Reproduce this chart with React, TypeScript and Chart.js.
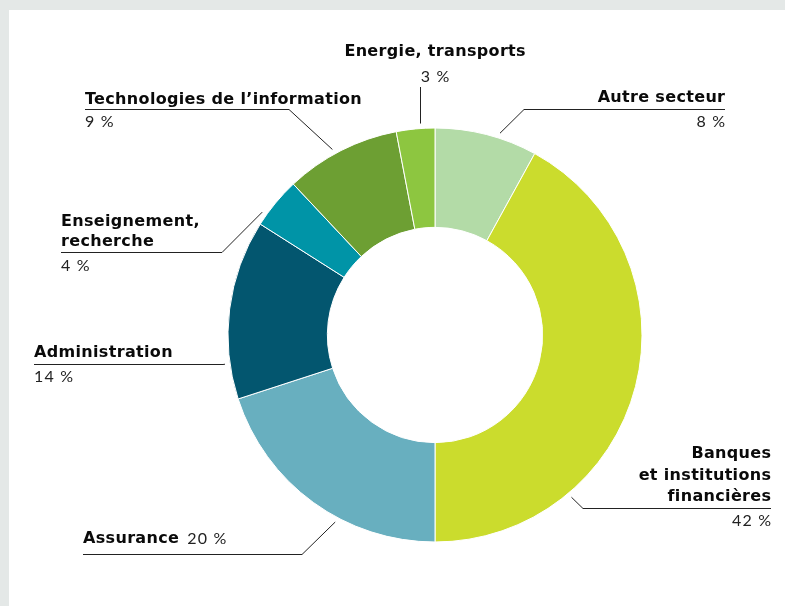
import React, { useEffect, useRef } from "react";
import { Chart, registerables } from "chart.js";

Chart.register(...registerables);

const sectors = [
  "Autre secteur",
  "Banques et institutions financières",
  "Assurance",
  "Administration",
  "Enseignement, recherche",
  "Technologies de l’information",
  "Energie, transports",
];
const shares = [8, 42, 20, 14, 4, 9, 3];
const sliceColors = ["#b3dba7", "#cbdc2d", "#68afbf", "#03566f", "#0094a7", "#6d9f33", "#8dc640"];

// label layout (annotation placement only)
type LabelLayout = {
  lines: string[];
  align: "left" | "right" | "center" | "inline";
  x: number;
  lineY: number[];
  pctY: number;
  underlineY: number;
  elbowX: number;
  t: number; // where along the slice the leader touches
};
const labelLayout: LabelLayout[] = [
  { lines: ["Autre secteur"], align: "right", x: 725, lineY: [98], pctY: 122, underlineY: 109, elbowX: 524, t: 0.62 },
  { lines: ["Banques", "et institutions", "financières"], align: "right", x: 771, lineY: [454, 476, 497], pctY: 521, underlineY: 508, elbowX: 583, t: 0.735 },
  { lines: ["Assurance"], align: "inline", x: 83, lineY: [539], pctY: 539, underlineY: 554, elbowX: 302, t: 0.39 },
  { lines: ["Administration"], align: "left", x: 34, lineY: [353], pctY: 377, underlineY: 364, elbowX: 223, t: 0.2 },
  { lines: ["Enseignement,", "recherche"], align: "left", x: 61, lineY: [222, 242], pctY: 266, underlineY: 252, elbowX: 222, t: 0.21 },
  { lines: ["Technologies de l’information"], align: "left", x: 85, lineY: [100], pctY: 122, underlineY: 109, elbowX: 289, t: 0.44 },
  { lines: ["Energie, transports"], align: "center", x: 435, lineY: [52], pctY: 77, underlineY: 87, elbowX: 0, t: 0.62 },
];

const BOLD = "bold 16px 'DejaVu Sans', Lato, sans-serif";
const NORMAL = "16px Lato, 'Open Sans', sans-serif";
let BOLD_LS = 0;
const NORMAL_LS = 1.2;
const REF_TEXT = "Technologies de l’information";
const REF_WIDTH = 277;

function setFont(ctx: any, bold: boolean) {
  ctx.font = bold ? BOLD : NORMAL;
  ctx.letterSpacing = (bold ? BOLD_LS : NORMAL_LS) + "px";
}
function drawText(ctx: any, text: string, x: number, y: number, align: string, bold: boolean) {
  setFont(ctx, bold);
  const ls = bold ? BOLD_LS : NORMAL_LS;
  ctx.textAlign = align;
  const dx = align === "right" ? ls : align === "center" ? ls / 2 : 0;
  ctx.fillStyle = bold ? "#0a0a0a" : "#222";
  ctx.fillText(text, x + dx, y);
}

const labelPlugin = {
  id: "sectorLabels",
  afterDraw(chart: any) {
    const ctx = chart.ctx as any;
    const meta = chart.getDatasetMeta(0);
    ctx.save();
    ctx.font = BOLD;
    ctx.letterSpacing = "0px";
    const w0 = ctx.measureText(REF_TEXT).width;
    BOLD_LS = (REF_WIDTH - w0) / REF_TEXT.length;
    ctx.textBaseline = "middle";
    meta.data.forEach((arc: any, i: number) => {
      const L = labelLayout[i];
      const p = arc.getProps(["x", "y", "startAngle", "endAngle", "outerRadius"], true);
      const a = p.startAngle + L.t * (p.endAngle - p.startAngle);
      const r = p.outerRadius + 5;
      const ax = p.x + r * Math.cos(a);
      const ay = p.y + r * Math.sin(a);
      const pct = `${shares[i]} %`;

      ctx.strokeStyle = "#222";
      ctx.lineWidth = 1;

      if (L.align === "center") {
        drawText(ctx, L.lines[0], L.x, L.lineY[0], "center", true);
        drawText(ctx, pct, L.x, L.pctY, "center", false);
        ctx.beginPath();
        ctx.moveTo(Math.round(ax) + 0.5, L.underlineY);
        ctx.lineTo(Math.round(ax) + 0.5, ay);
        ctx.stroke();
        return;
      }

      const textEdge = L.x;
      if (L.align === "inline") {
        drawText(ctx, L.lines[0], L.x, L.lineY[0], "left", true);
        setFont(ctx, true);
        const w = ctx.measureText(L.lines[0]).width + 8;
        drawText(ctx, pct, L.x + w, L.pctY, "left", false);
      } else {
        L.lines.forEach((line, k) => drawText(ctx, line, L.x, L.lineY[k], L.align, true));
        drawText(ctx, pct, L.x, L.pctY, L.align, false);
      }
      const uy = Math.round(L.underlineY) + 0.5;
      ctx.beginPath();
      ctx.moveTo(Math.min(textEdge, L.elbowX), uy);
      ctx.lineTo(Math.max(textEdge, L.elbowX), uy);
      ctx.stroke();
      ctx.beginPath();
      ctx.moveTo(L.elbowX, uy);
      ctx.lineTo(ax, ay);
      ctx.stroke();
    });
    ctx.restore();
  },
};

export default function App() {
  const ref = useRef<HTMLCanvasElement>(null);
  useEffect(() => {
    document.body.style.margin = "0";
    const chart = new Chart(ref.current!, {
      type: "doughnut",
      data: {
        labels: sectors,
        datasets: [
          {
            data: shares,
            backgroundColor: sliceColors,
            borderColor: "#ffffff",
            borderWidth: 1,
          },
        ],
      },
      options: {
        responsive: false,
        animation: false,
        devicePixelRatio: 1,
        cutout: "52%",
        layout: { padding: { left: 227.5, right: 142.5, top: 127.5, bottom: 63.5 } },
        plugins: { legend: { display: false }, tooltip: { enabled: false } },
      },
      plugins: [labelPlugin],
    });
    return () => chart.destroy();
  }, []);
  return (
    <div style={{ position: "absolute", left: 0, top: 0, width: 785, height: 606, background: "#e4e8e7", overflow: "hidden" }}>
      <div style={{ position: "absolute", left: 9, top: 10, right: 0, bottom: 0, background: "#ffffff" }} />
      <canvas ref={ref} width={785} height={606} style={{ position: "absolute", left: 0, top: 0 }} />
    </div>
  );
}
